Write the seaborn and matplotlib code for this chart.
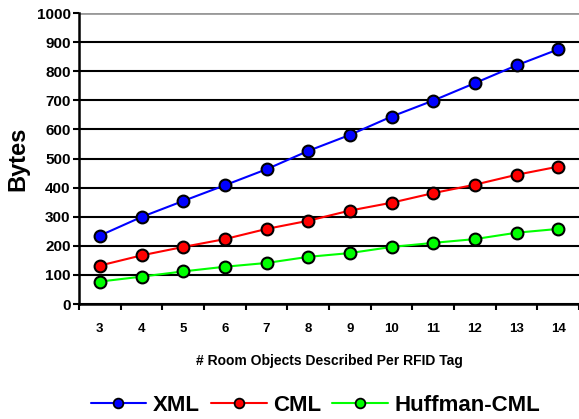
import matplotlib
matplotlib.use("Agg")
import matplotlib.pyplot as plt
import seaborn as sns
import pandas as pd
import numpy as np

objects = [3, 4, 5, 6, 7, 8, 9, 10, 11, 12, 13, 14]
xml = [235, 299, 354, 408, 463, 526, 581, 644, 699, 759, 820, 875]
cml = [132, 167, 196, 223, 258, 286, 321, 348, 381, 410, 444, 472]
huff = [77, 94, 112, 128, 141, 162, 175, 196, 210, 223, 245, 258]
series_names = ["XML", "CML", "Huffman-CML"]
colors = ["#0000ff", "#ff0000", "#00ff00"]
yticks = list(range(0, 1001, 100))

df = pd.concat([
    pd.DataFrame({"objects": objects, "bytes": vals, "series": name})
    for name, vals in zip(series_names, [xml, cml, huff])
])

sns.set_theme(style="white")
plt.rcParams['font.family'] = ['Liberation Sans', 'DejaVu Sans']
plt.rcParams['font.weight'] = 'bold'
plt.rcParams['text.color'] = 'black'
plt.rcParams['axes.labelcolor'] = 'black'
plt.rcParams['xtick.color'] = 'black'
plt.rcParams['ytick.color'] = 'black'

fig = plt.figure(figsize=(5.79, 4.19), dpi=100)
ax = fig.add_axes([79/579, 1-304/419, 1-79/579, (304-13)/419])

sns.lineplot(data=df, x="objects", y="bytes", hue="series", hue_order=series_names,
             palette=colors, marker="o", markersize=8.5, markeredgecolor="black",
             markeredgewidth=1.5, linewidth=1.5, ax=ax, legend=True, zorder=3)

ax.set_xlim(2.5, 14.5)
ax.set_ylim(0, 1000)
ax.set_yticks(yticks)
ax.set_xticks(objects)
ax.set_xticklabels([str(o) for o in objects], fontsize=9.5, fontweight='bold')
ax.set_xticks(np.arange(2.5, 15, 1), minor=True)
ax.tick_params(axis='x', which='major', length=0, pad=14)
ax.tick_params(axis='x', which='minor', length=4, width=1.5, direction='out', color='black', bottom=True)
ax.tick_params(axis='y', length=4, width=1.5, direction='out', color='black', left=True, pad=2)
for lab in ax.get_yticklabels():
    lab.set_fontsize(11)
    lab.set_fontweight('bold')

ax.yaxis.grid(True, color='black', linewidth=1.5)
ax.set_axisbelow(True)
for sp in ['top', 'right']:
    ax.spines[sp].set_visible(False)
for sp in ['left', 'bottom']:
    ax.spines[sp].set_color('black')
    ax.spines[sp].set_linewidth(1.8)
gl = ax.get_ygridlines()
gl[-1].set_color('#999999')
gl[-1].set_linewidth(2)

ax.set_xlabel("# Room Objects Described Per RFID Tag", fontsize=10, fontweight='bold', labelpad=13)
ax.set_ylabel("Bytes", fontsize=17, fontweight='bold', labelpad=5)

handles, labels = ax.get_legend_handles_labels()
ax.get_legend().remove()
for h in handles:
    h.set_markersize(7)
    h.set_markeredgewidth(1.3)
fig.legend(handles, labels, loc='lower center', bbox_to_anchor=(0.545, -0.04), ncol=3,
           frameon=False, prop={'size': 16, 'weight': 'bold'}, handlelength=2.5,
           columnspacing=0.5, handletextpad=0.3)

fig.savefig("out.png", dpi=100)
